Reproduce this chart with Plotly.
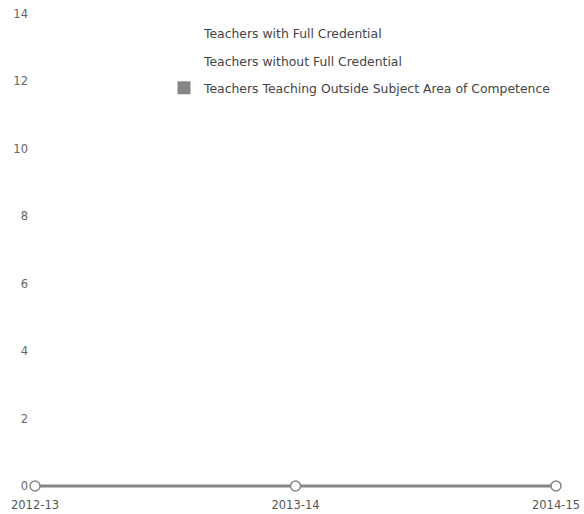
import plotly.graph_objects as go

years = ["2012-13", "2013-14", "2014-15"]
series_names = [
    "Teachers with Full Credential",
    "Teachers without Full Credential",
    "Teachers Teaching Outside Subject Area of Competence",
]
full_credential = [0, 0, 0]
without_credential = [0, 0, 0]
outside_subject = [0, 0, 0]
y_ticks = [0, 2, 4, 6, 8, 10, 12, 14]

series_values = [full_credential, without_credential, outside_subject]
series_colors = ["#ffffff", "#ffffff", "#858585"]

W, H = 584, 514
ML, MR, MT, MB = 35, 28, 14, 24
Y_MIN, Y_MAX = -0.12, 14
PLOT_H = H - MT - MB

fig = go.Figure()

for i, (name, vals, col) in enumerate(zip(series_names, series_values, series_colors)):
    fig.add_trace(go.Scatter(
        x=years, y=vals, name=name, mode="lines+markers",
        line=dict(color=col, width=3),
        marker=dict(symbol="circle", size=10, color="#ffffff",
                    line=dict(color=col, width=1.5)),
        cliponaxis=False, showlegend=False,
    ))
    # square legend key for each series
    fig.add_trace(go.Scatter(
        x=[None], y=[None], name=name, mode="markers",
        marker=dict(symbol="square", size=13, color=col),
        legendgroup=f"g{i}", showlegend=True,
    ))

fig.update_layout(
    width=W, height=H,
    margin=dict(l=ML, r=MR, t=MT, b=MB, autoexpand=False),
    paper_bgcolor="#ffffff", plot_bgcolor="#ffffff",
    font=dict(family="DejaVu Sans", size=11, color="#555555"),
    showlegend=True,
    legend=dict(x=(164 - ML) / (W - ML - MR), y=1.0 - 5 / PLOT_H,
                xanchor="left", yanchor="top",
                font=dict(family="DejaVu Sans", size=12.4, color="#444444"),
                tracegroupgap=8, bgcolor="rgba(0,0,0,0)"),
    xaxis=dict(type="category", range=[0, 2], showgrid=False, zeroline=False,
               showline=False, ticks="", automargin=False, ticklabelstandoff=6,
               tickfont=dict(size=11.5, color="#555555")),
    yaxis=dict(range=[Y_MIN, Y_MAX], tickvals=y_ticks, showgrid=False, zeroline=False,
               showline=False, ticks="", automargin=False, ticklabelstandoff=6,
               tickfont=dict(size=11.5, color="#666666")),
)

fig.write_html("out.html")
